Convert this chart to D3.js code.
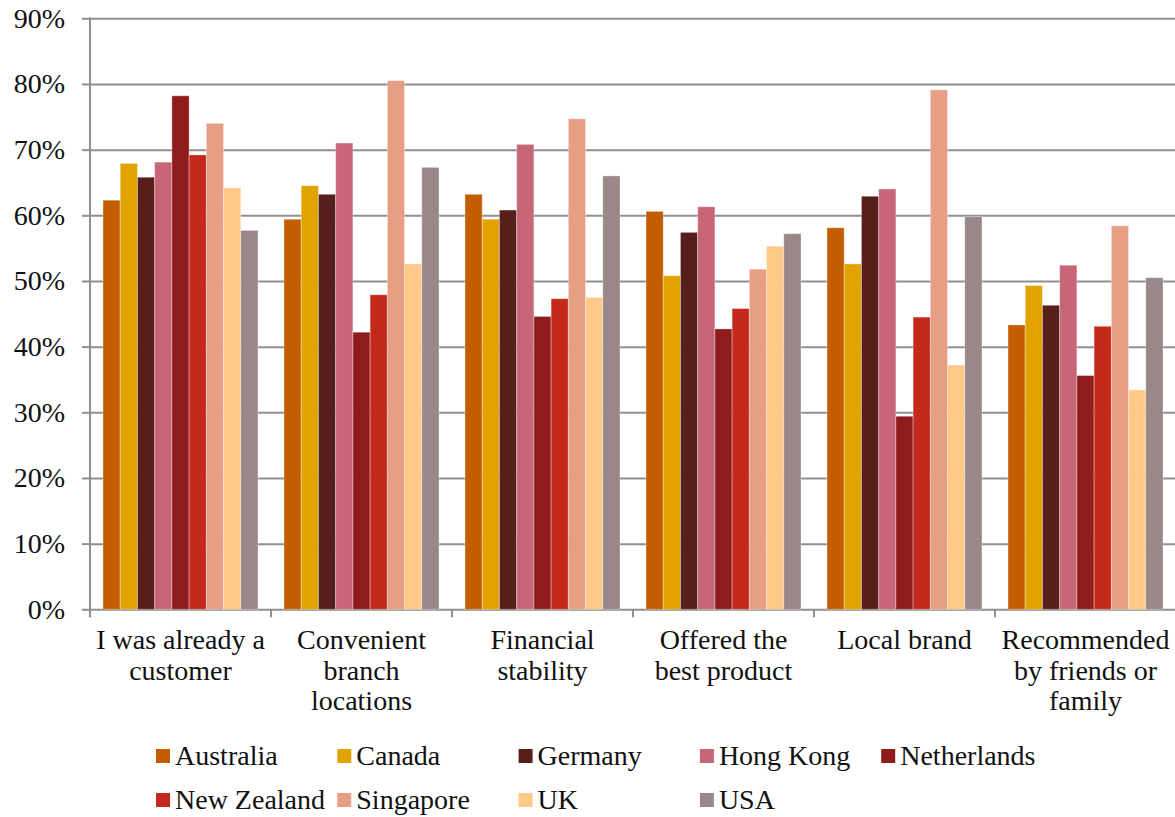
<!DOCTYPE html>
<html>
<head>
<meta charset="utf-8">
<script src="https://cdn.jsdelivr.net/npm/d3@7"></script>
<style>
  html, body { margin: 0; padding: 0; background: #fff; }
  svg { display: block; }
  text { font-family: "Liberation Serif", "DejaVu Serif", serif; fill: #111; }
</style>
</head>
<body>
<svg id="chart" width="1175" height="817"></svg>
<script>
// Reasons for choosing a bank, share of respondents by country (%)
const categories = [
  ["I was already a", "customer"],
  ["Convenient", "branch", "locations"],
  ["Financial", "stability"],
  ["Offered the", "best product"],
  ["Local brand"],
  ["Recommended", "by friends or", "family"]
];
const countries = ["Australia", "Canada", "Germany", "Hong Kong", "Netherlands",
                   "New Zealand", "Singapore", "UK", "USA"];
const colors = ["#C45C00", "#E2A200", "#561F1C", "#C76676", "#8F1B1C",
                "#C4291C", "#E69E85", "#FFC987", "#9A8787"];

const australia  = [62.3, 59.4, 63.2, 60.6, 58.1, 43.3];
const canada     = [67.9, 64.5, 59.4, 50.8, 52.6, 49.3];
const germany    = [65.8, 63.2, 60.8, 57.4, 62.9, 46.3];
const hongKong   = [68.1, 71.0, 70.8, 61.3, 64.0, 52.4];
const netherlands= [78.2, 42.2, 44.6, 42.7, 29.4, 35.6];
const newZealand = [69.2, 47.9, 47.3, 45.8, 44.5, 43.1];
const singapore  = [74.0, 80.5, 74.7, 51.8, 79.1, 58.4];
const uk         = [64.2, 52.6, 47.5, 55.3, 37.2, 33.4];
const usa        = [57.7, 67.3, 66.0, 57.2, 59.8, 50.5];

const yTicks = [0, 10, 20, 30, 40, 50, 60, 70, 80, 90];

const series = [australia, canada, germany, hongKong, netherlands,
                newZealand, singapore, uk, usa];

const svg = d3.select("#chart");
const plotLeft = 90, plotRight = 1176, plotTop = 18.3, plotBottom = 609.3;

const x0 = d3.scaleBand().domain(d3.range(categories.length)).range([plotLeft, plotRight]).padding(0);
const innerPad = 13;
const x1 = d3.scaleBand().domain(d3.range(countries.length))
  .range([innerPad, x0.bandwidth() - innerPad]).padding(0);
const y = d3.scaleLinear().domain([0, 90]).range([plotBottom, plotTop]);

const gridColor = "#8f8f8f";

// horizontal gridlines with short tick marks left of the axis
svg.append("g")
  .attr("transform", `translate(${plotLeft},0)`)
  .call(d3.axisLeft(y).tickValues(yTicks).tickSize(8).tickFormat(d => d + "%").tickSizeOuter(0))
  .call(g => g.select(".domain").remove())
  .call(g => g.selectAll(".tick line").attr("stroke", gridColor).attr("stroke-width", 2))
  .call(g => g.selectAll(".tick").append("line")
      .attr("x1", 0).attr("x2", plotRight - plotLeft)
      .attr("stroke", gridColor).attr("stroke-width", 2))
  .call(g => g.selectAll(".tick text")
      .attr("x", -25).attr("dy", "0.32em")
      .style("font-size", "28px").style("fill", "#111")
      .style("font-family", "'Liberation Serif', serif"));

// vertical axis line
svg.append("line")
  .attr("x1", plotLeft).attr("x2", plotLeft).attr("y1", plotTop - 1).attr("y2", plotBottom + 8)
  .attr("stroke", gridColor).attr("stroke-width", 2);

// category tick marks below the baseline
svg.append("g").selectAll("line")
  .data(d3.range(categories.length + 1))
  .join("line")
  .attr("x1", i => plotLeft + i * x0.bandwidth())
  .attr("x2", i => plotLeft + i * x0.bandwidth())
  .attr("y1", plotBottom).attr("y2", plotBottom + 8)
  .attr("stroke", gridColor).attr("stroke-width", 2);

// bars
const groups = svg.append("g").selectAll("g")
  .data(categories.map((c, i) => i))
  .join("g")
  .attr("transform", i => `translate(${x0(i)},0)`);

groups.selectAll("rect")
  .data(ci => series.map((s, si) => ({ si, v: s[ci] })))
  .join("rect")
  .attr("x", d => x1(d.si))
  .attr("width", x1.bandwidth())
  .attr("y", d => y(d.v))
  .attr("height", d => y(0) - y(d.v))
  .attr("fill", d => colors[d.si])
  .attr("stroke", "rgba(255,255,255,0.35)")
  .attr("stroke-width", 1);

// category labels
const lineH = 30.5;
svg.append("g").selectAll("text")
  .data(categories)
  .join("text")
  .attr("text-anchor", "middle")
  .style("font-size", "28px")
  .attr("transform", (d, i) => `translate(${x0(i) + x0.bandwidth() / 2},649)`)
  .selectAll("tspan")
  .data(d => d)
  .join("tspan")
  .attr("x", 0)
  .attr("y", (d, i) => i * lineH)
  .text(d => d);

// legend: two rows of five columns
const legCol = 181.3, legX = 156, legRows = [756, 800];
const leg = svg.append("g").selectAll("g")
  .data(countries)
  .join("g")
  .attr("transform", (d, i) => `translate(${legX + (i % 5) * legCol},${legRows[Math.floor(i / 5)]})`);
leg.append("rect")
  .attr("x", 0).attr("y", -7).attr("width", 14).attr("height", 14)
  .attr("fill", (d, i) => colors[i]);
leg.append("text")
  .attr("x", 19).attr("dy", "0.33em")
  .style("font-size", "28px")
  .text(d => d);
</script>
</body>
</html>
